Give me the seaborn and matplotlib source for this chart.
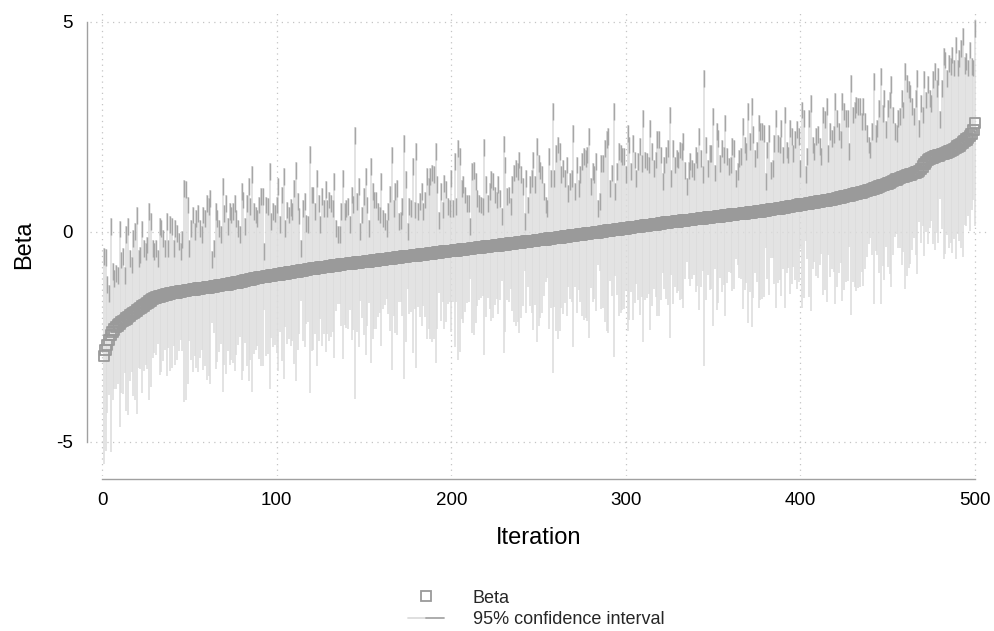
import numpy as np
import pandas as pd
import matplotlib
matplotlib.use("Agg")
import matplotlib.pyplot as plt
import seaborn as sns
from matplotlib.lines import Line2D
from matplotlib.legend_handler import HandlerTuple

# Sorted coefficient estimates, one per iteration (1..500)
beta = [
    -2.96, -2.81, -2.69, -2.57, -2.46, -2.38, -2.32, -2.27, -2.23, -2.19,
    -2.15, -2.12, -2.09, -2.06, -2.02, -1.99, -1.96, -1.93, -1.90, -1.87,
    -1.84, -1.81, -1.78, -1.75, -1.72, -1.69, -1.66, -1.63, -1.60, -1.58,
    -1.56, -1.55, -1.54, -1.52, -1.51, -1.50, -1.49, -1.48, -1.47, -1.46,
    -1.45, -1.44, -1.44, -1.43, -1.42, -1.41, -1.41, -1.40, -1.39, -1.39,
    -1.38, -1.37, -1.37, -1.36, -1.35, -1.35, -1.34, -1.34, -1.33, -1.32,
    -1.32, -1.31, -1.31, -1.30, -1.29, -1.29, -1.28, -1.27, -1.27, -1.26,
    -1.25, -1.25, -1.24, -1.23, -1.22, -1.21, -1.20, -1.20, -1.19, -1.18,
    -1.17, -1.16, -1.15, -1.14, -1.13, -1.12, -1.11, -1.10, -1.10, -1.09,
    -1.08, -1.07, -1.07, -1.06, -1.05, -1.05, -1.04, -1.03, -1.03, -1.02,
    -1.01, -1.01, -1.00, -0.99, -0.99, -0.98, -0.97, -0.97, -0.96, -0.95,
    -0.94, -0.94, -0.93, -0.92, -0.92, -0.91, -0.90, -0.89, -0.89, -0.88,
    -0.87, -0.87, -0.86, -0.86, -0.85, -0.84, -0.84, -0.83, -0.83, -0.82,
    -0.81, -0.81, -0.80, -0.80, -0.79, -0.79, -0.78, -0.77, -0.77, -0.76,
    -0.76, -0.75, -0.75, -0.74, -0.74, -0.73, -0.73, -0.72, -0.72, -0.71,
    -0.71, -0.70, -0.70, -0.69, -0.69, -0.68, -0.68, -0.67, -0.67, -0.66,
    -0.66, -0.65, -0.65, -0.64, -0.63, -0.63, -0.62, -0.62, -0.61, -0.61,
    -0.60, -0.60, -0.59, -0.59, -0.58, -0.58, -0.57, -0.57, -0.56, -0.56,
    -0.55, -0.55, -0.54, -0.54, -0.53, -0.52, -0.52, -0.51, -0.51, -0.50,
    -0.50, -0.49, -0.49, -0.48, -0.48, -0.47, -0.47, -0.46, -0.46, -0.45,
    -0.45, -0.44, -0.44, -0.43, -0.43, -0.42, -0.42, -0.41, -0.41, -0.40,
    -0.40, -0.39, -0.39, -0.38, -0.38, -0.37, -0.37, -0.36, -0.36, -0.35,
    -0.35, -0.34, -0.34, -0.33, -0.33, -0.32, -0.32, -0.31, -0.31, -0.30,
    -0.30, -0.29, -0.29, -0.28, -0.28, -0.27, -0.27, -0.26, -0.25, -0.25,
    -0.24, -0.24, -0.23, -0.23, -0.22, -0.22, -0.21, -0.21, -0.20, -0.20,
    -0.19, -0.19, -0.18, -0.18, -0.17, -0.16, -0.16, -0.15, -0.15, -0.14,
    -0.14, -0.13, -0.13, -0.12, -0.11, -0.11, -0.10, -0.10, -0.09, -0.09,
    -0.08, -0.07, -0.07, -0.06, -0.06, -0.05, -0.05, -0.04, -0.03, -0.03,
    -0.02, -0.02, -0.01, -0.01, 0.00, 0.00, 0.01, 0.02, 0.02, 0.03,
    0.03, 0.04, 0.04, 0.05, 0.06, 0.06, 0.07, 0.07, 0.08, 0.08,
    0.09, 0.09, 0.10, 0.11, 0.11, 0.12, 0.12, 0.13, 0.14, 0.14,
    0.15, 0.15, 0.16, 0.17, 0.17, 0.18, 0.18, 0.19, 0.19, 0.20,
    0.21, 0.21, 0.22, 0.22, 0.23, 0.23, 0.24, 0.24, 0.25, 0.25,
    0.26, 0.26, 0.27, 0.27, 0.28, 0.28, 0.29, 0.29, 0.30, 0.30,
    0.31, 0.31, 0.32, 0.32, 0.33, 0.33, 0.34, 0.34, 0.35, 0.35,
    0.36, 0.36, 0.37, 0.37, 0.38, 0.38, 0.39, 0.39, 0.40, 0.40,
    0.41, 0.41, 0.42, 0.42, 0.43, 0.43, 0.44, 0.44, 0.45, 0.45,
    0.46, 0.46, 0.47, 0.48, 0.48, 0.49, 0.49, 0.50, 0.50, 0.51,
    0.52, 0.52, 0.53, 0.54, 0.54, 0.55, 0.55, 0.56, 0.57, 0.57,
    0.58, 0.59, 0.59, 0.60, 0.61, 0.62, 0.62, 0.63, 0.64, 0.65,
    0.65, 0.66, 0.67, 0.67, 0.68, 0.69, 0.69, 0.70, 0.71, 0.71,
    0.72, 0.73, 0.74, 0.74, 0.75, 0.76, 0.76, 0.77, 0.78, 0.79,
    0.80, 0.81, 0.82, 0.83, 0.84, 0.85, 0.86, 0.87, 0.88, 0.89,
    0.90, 0.91, 0.92, 0.93, 0.94, 0.95, 0.97, 0.98, 0.99, 1.00,
    1.02, 1.03, 1.05, 1.06, 1.08, 1.09, 1.11, 1.12, 1.14, 1.15,
    1.17, 1.19, 1.21, 1.23, 1.25, 1.26, 1.28, 1.30, 1.31, 1.33,
    1.34, 1.36, 1.37, 1.38, 1.40, 1.41, 1.43, 1.45, 1.50, 1.56,
    1.62, 1.67, 1.71, 1.74, 1.76, 1.77, 1.79, 1.80, 1.82, 1.83,
    1.85, 1.86, 1.88, 1.89, 1.91, 1.93, 1.95, 1.97, 2.00, 2.03,
    2.06, 2.09, 2.13, 2.17, 2.20, 2.24, 2.28, 2.33, 2.43, 2.59,
]

# Upper bound of the 95% interval for each iteration
upper = [
    -0.39, -0.41, -1.06, -1.26, 0.33, -0.75, -0.90, -0.79, -0.83, 0.27,
    -0.47, -0.39, -0.83, 0.14, 0.33, -0.43, -0.59, 0.05, 0.21, 0.59,
    -0.43, -0.35, 0.27, -0.19, -0.27, -0.11, 0.68, 0.44, -0.19, -0.27,
    -0.19, -0.43, 0.33, 0.29, 0.05, -0.19, 0.44, -0.19, 0.37, 0.33,
    -0.19, 0.29, 0.17, -0.03, -0.27, 0.01, 1.24, 1.20, 0.84, -0.19,
    0.29, 0.60, 0.21, 0.52, 0.64, 0.29, 0.13, 0.60, 0.52, 0.88,
    0.80, 1.00, -0.45, -0.19, 0.68, 0.52, 0.29, 0.13, 1.28, 0.64,
    0.88, 0.33, 0.68, 0.60, 0.68, 0.88, 0.52, 0.29, 0.13, 1.16,
    0.96, 0.33,
    0.88, 1.28, 0.80, 1.56, 0.68, 0.60, 0.52, 0.84, 1.04, 1.04,
    -0.27, 0.84, 0.80, 1.63, 0.44, 0.68, 0.64, 0.84, 1.28, 0.37,
    1.08, 1.52, 0.29, 0.72, 0.60, 0.78, 0.68, 1.24, 1.67, 0.92,
    0.58,
    -0.19, 0.76, 0.92, 0.40, 0.37, 2.05, 1.08, 1.08, 0.68, 1.48,
    0.88, 0.37, 1.04, 0.76, 1.20, 0.76, 0.96, 0.88, 0.76, 1.40,
    0.29, 0.13, 0.13, 0.68, 1.48, 0.68, 0.76, 0.80, 0.37, 1.08,
    0.85,
    2.49, 0.92, 1.28, 0.21, 0.60, 1.04, 1.52, 0.84, 0.29, 1.75,
    1.16, 0.96, 0.96, 0.68, 0.60, 1.40, 0.52, 0.44, 0.29, 0.68,
    1.10, 2.03,
    0.76, 1.16, 1.24, 0.44, 0.48, 0.80, 2.31, 1.44, 0.21,
    0.80, 0.76, 1.75, 0.72, 2.11, 0.68, 0.92, 1.16, 0.68, 0.96,
    1.52, 1.28, 1.52, 1.60, 1.56, 2.11, 1.32, 0.48, 1.16, 0.72,
    1.36, 1.20, 0.80, 0.76, 1.48, 0.76, 1.87, 0.80, 2.19, 1.99,
    1.24, 1.32, 1.08, 0.88, 0.88, 0.33, 1.63, 1.67, 1.40, 1.00,
    0.88, 0.84, 0.80, 2.21, 1.32, 0.88, 1.16, 1.44, 1.40, 1.08,
    0.96, 1.32, 1.00, 0.56, 2.29, 1.79, 1.04, 1.08, 0.80, 1.32,
    1.60, 1.71, 1.63, 1.91, 1.56, 1.28, 0.44, 1.48, 0.84, 1.32,
    1.48, 1.91, 1.32, 2.23,
    1.83, 1.67, 1.56, 1.16, 0.84, 0.76, 1.99, 1.48, 3.06, 1.48,
    2.07, 2.27, 2.11, 1.56, 1.71, 1.48, 1.79, 1.12, 1.40, 1.48,
    2.55, 1.16, 1.79, 1.24, 1.56, 1.87, 1.99, 1.95, 2.03, 2.47,
    1.28, 1.63, 1.56, 1.87, 0.76, 0.92, 1.83, 1.83, 2.19, 2.39,
    2.47, 1.24, 1.60, 3.06, 1.16, 1.63, 2.11, 2.07, 1.99, 1.99,
    1.56, 2.55, 2.27, 1.63, 2.31, 1.91, 1.48, 1.87, 2.23, 1.83,
    2.90, 1.91, 1.87, 1.79, 2.67, 2.11, 1.71, 1.91, 2.39, 2.39,
    2.03, 1.40, 1.79, 2.03, 2.19, 2.98, 1.48, 2.19, 1.79, 1.95,
    1.91, 2.15, 2.11, 2.35,
    1.67, 1.28, 1.67, 1.87, 1.71, 1.63, 2.03, 1.91, 2.47, 1.95,
    1.56, 3.86, 2.27, 1.71, 2.07, 2.07, 2.94, 1.60, 2.59, 2.43,
    1.83, 2.19, 2.03, 2.79, 1.99, 1.75, 1.79, 2.23, 2.19, 1.48,
    1.63, 1.95, 1.99, 2.71, 2.27, 2.11, 3.06, 2.35, 3.18, 2.51,
    1.95, 2.15, 2.79, 2.59, 2.59, 2.55, 1.40, 2.15, 2.55, 1.67,
    1.71, 2.31, 2.90, 2.31, 2.27, 2.67, 2.03, 2.98, 2.15, 2.03,
    2.67, 2.47, 2.07, 2.39, 2.63, 2.47, 1.71, 3.10, 2.90, 1.56,
    1.99, 2.90, 3.26, 2.27, 2.11, 2.47, 2.51, 2.23, 1.99, 2.98,
    2.87, 3.18, 2.07, 2.59,
    2.43, 2.51, 3.30, 2.90, 2.59, 2.39, 3.30, 3.06, 2.90, 2.90,
    2.11, 3.74, 2.98, 3.10, 3.22, 3.18, 3.18, 2.83, 3.18, 2.83,
    2.55, 2.27, 2.15, 2.59, 3.78, 2.55, 2.67, 3.14, 3.90, 3.02,
    3.38, 2.63, 3.14, 3.34, 3.70, 2.98, 2.59, 2.55, 2.90, 2.94,
    3.38, 3.10, 4.02, 3.74, 3.58, 3.50, 3.18, 2.94, 3.38, 3.86,
    2.67, 3.26, 2.98, 3.82, 3.34, 3.70, 3.38, 3.26, 3.82, 4.02,
    3.62, 3.90, 2.87, 3.62, 4.37, 4.29, 3.86, 4.21, 4.13, 4.41,
    4.10, 4.65, 4.10, 4.33, 4.57, 4.85, 4.17, 4.25, 4.10, 4.53,
    4.13, 4.10, 5.05,
]

x_ticks = [0, 100, 200, 300, 400, 500]
y_ticks = [-5, 0, 5]
y_tick_labels = ["-5", "0", "5"]

df = pd.DataFrame({"iteration": np.arange(1, len(beta) + 1),
                   "beta": beta, "upper": upper})
# symmetric interval around the estimate
df["lower"] = 2 * df["beta"] - df["upper"]

sns.set_theme(style="white")
plt.rcParams["font.family"] = ["Liberation Sans", "DejaVu Sans"]

LIGHT = "#dcdcdc"
DARK = "#a6a6a6"
MARK = "#9a9a9a"
AXIS = "#a0a0a0"

fig = plt.figure(figsize=(9.95, 6.31), dpi=100)
ax = fig.add_axes([90 / 995, 1 - 476 / 631, 898 / 995, 463 / 631])

# interval spikes, with a darker tip at the upper end
tip = 0.4
ax.vlines(df["iteration"], df["lower"], df["upper"], color=LIGHT, lw=1.15, zorder=2)
ax.vlines(df["iteration"], df["upper"] - tip, df["upper"], color=DARK, lw=1.05, zorder=3)

sns.scatterplot(data=df, x="iteration", y="beta", marker="s", s=56,
                linewidth=1.3, ax=ax, zorder=4, legend=False)
pts = ax.collections[-1]
pts.set_facecolor("none")
pts.set_edgecolor(MARK)
pts.set_linewidth(1.3)

ax.set_xlim(-6.9, 507.4)
ax.set_ylim(-5.81, 5.21)
ax.set_xticks(x_ticks)
ax.set_yticks(y_ticks)
ax.set_yticklabels(y_tick_labels)
ax.grid(True, color="#c4c4c4", linestyle=(0, (1, 3.5)), linewidth=0.9)
ax.set_axisbelow(True)

for side in ("top", "right"):
    ax.spines[side].set_visible(False)
for side in ("left", "bottom"):
    ax.spines[side].set_color(AXIS)
    ax.spines[side].set_linewidth(1.0)
    ax.spines[side].set_position(("outward", 2.2))
ax.spines["left"].set_bounds(-5, 5)
ax.spines["bottom"].set_bounds(0, 500)

ax.tick_params(axis="both", direction="out", length=6.3, width=0.9, color=AXIS,
               labelsize=13.5, labelcolor="black")
ax.tick_params(axis="y", pad=4)
ax.tick_params(axis="x", pad=3)

ax.set_xlabel("Iteration", fontsize=17, labelpad=13, color="black")
ax.set_ylabel("Beta", fontsize=17, labelpad=15, color="black")

h_beta = Line2D([], [], marker="s", ls="none", mfc="none", mec=MARK, ms=6.5, mew=1.3)
h_ci = (Line2D([], [], color=LIGHT, lw=1.3), Line2D([], [], color=DARK, lw=1.3))
fig.legend([h_beta, h_ci], ["Beta", "95% confidence interval"],
           handler_map={tuple: HandlerTuple(ndivide=None, pad=0)},
           loc="center", bbox_to_anchor=(536 / 995, 1 - 609 / 631),
           frameon=False, fontsize=13, handlelength=2.0, handletextpad=1.6,
           labelspacing=0.25)

fig.savefig("out.png", dpi=100)
